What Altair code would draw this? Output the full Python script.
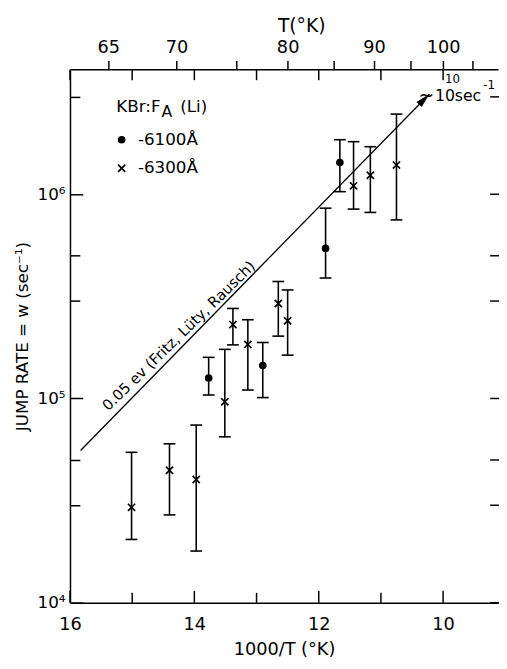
import altair as alt
import pandas as pd

FONT = "DejaVu Sans"

# ---- data ----
series_names = ["-6100Å", "-6300Å"]

x_6100 = [13.77, 12.90, 11.89, 11.66]
w_6100 = [1.26e5, 1.45e5, 5.43e5, 1.43e6]
lo_6100 = [1.04e5, 1.01e5, 3.89e5, 1.03e6]
hi_6100 = [1.59e5, 1.88e5, 8.55e5, 1.85e6]

x_6300 = [15.01, 14.40, 13.97, 13.51, 13.38, 13.14, 12.65, 12.50, 11.44, 11.17, 10.75]
w_6300 = [2.93e4, 4.45e4, 4.01e4, 9.63e4, 2.30e5, 1.84e5, 2.92e5, 2.40e5, 1.10e6, 1.24e6, 1.39e6]
lo_6300 = [2.04e4, 2.69e4, 1.79e4, 6.49e4, 1.83e5, 1.10e5, 2.02e5, 1.63e5, 8.46e5, 8.15e5, 7.49e5]
hi_6300 = [5.45e4, 6.00e4, 7.41e4, 1.74e5, 2.76e5, 2.43e5, 3.74e5, 3.40e5, 1.81e6, 1.71e6, 2.47e6]

fit_x = [15.83, 10.22]
fit_w = [5.56e4, 3.10e6]
fit_label = "0.05 ev (Fritz, Lüty, Rausch)"
fit_label_x = [14.14]
fit_label_w = [1.87e5]

x_ticks_major = [16, 14, 12, 10]
x_ticks_minor = [15, 13, 11]
t_ticks = [65, 70, 75, 80, 85, 90, 95, 100, 105]
t_labels = [65, 70, 80, 90, 100]
y_ticks_major = [1e4, 1e5, 1e6]
y_ticks_minor = [3e4, 5e4, 3e5, 5e5, 3e6]
y_tick_labels = ["10⁴", "10⁵", "10⁶"]

x_domain = [9.117, 16]
y_domain = [1e4, 4.09e6]

W, H = 435, 542

# ---- tables ----
df = pd.DataFrame({
    "x": x_6100 + x_6300,
    "w": w_6100 + w_6300,
    "lo": lo_6100 + lo_6300,
    "hi": hi_6100 + hi_6300,
    "series": [series_names[0]] * len(x_6100) + [series_names[1]] * len(x_6300),
})
fit_df = pd.DataFrame({"x": fit_x, "w": fit_w})
tip_df = fit_df.tail(1)
lab_df = pd.DataFrame({"x": fit_label_x, "w": fit_label_w, "t": [fit_label]})
xmaj = pd.DataFrame({"x": x_ticks_major})
xmin = pd.DataFrame({"x": x_ticks_minor})
xall = pd.DataFrame({"x": x_ticks_major + x_ticks_minor})
ymaj = pd.DataFrame({"w": y_ticks_major})
ymin = pd.DataFrame({"w": y_ticks_minor})
yall = pd.DataFrame({"w": y_ticks_major + y_ticks_minor})

xs = alt.Scale(domain=x_domain, reverse=True, nice=False, zero=False)
ys = alt.Scale(type="log", domain=y_domain, nice=False)

XT = "1000/T (°K)"
YT = "JUMP RATE = w (sec⁻¹)"

bottom_axis = alt.Axis(
    orient="bottom", values=x_ticks_major, format="d", ticks=False, tickSize=0,
    labelPadding=13, labelFontSize=18, labelFont=FONT, labelColor="black",
    labelFlush=False, labelOverlap=False,
    titleFontSize=18, titleFont=FONT, titleFontWeight="normal", titleColor="black",
    titlePadding=8, grid=False, domainColor="black", domainWidth=1.5,
)
# label expression built from the tick label list
y_label_expr = ""
for v, lab in zip(y_ticks_major[:-1], y_tick_labels[:-1]):
    y_label_expr += f"datum.value < {v * 3} ? '{lab}' : "
y_label_expr += f"'{y_tick_labels[-1]}'"
left_axis = alt.Axis(
    orient="left", values=y_ticks_major, labelExpr=y_label_expr, ticks=False, tickSize=0,
    labelPadding=5, labelFontSize=17, labelFont=FONT, labelColor="black", labelOverlap=False,
    titleFontSize=17, titleFont=FONT, titleFontWeight="normal", titleColor="black",
    titlePadding=6, grid=False, domainColor="black", domainWidth=1.5, title=YT,
)
# inward left ticks: extra left axes shifted into the plot so their outward ticks reach the frame
left_major_ticks_axis = alt.Axis(
    orient="left", values=y_ticks_major, offset=-13, tickSize=13, tickWidth=1.5, tickColor="black",
    labels=False, domain=False, grid=False, title=None, zindex=2,
)
left_minor_ticks_axis = alt.Axis(
    orient="left", values=y_ticks_minor, offset=-10, tickSize=10, tickWidth=1.5, tickColor="black",
    labels=False, domain=False, grid=False, title=None, zindex=2,
)
top_label_expr = ("indexof(" + str(t_labels) + ", round(1000/datum.value)) >= 0 ? "
                  "'' + round(1000/datum.value) : ''")
top_axis = alt.Axis(
    orient="top", values=[1000.0 / t for t in t_ticks], labelExpr=top_label_expr,
    tickSize=9, tickWidth=1.5, tickColor="black", labelPadding=4,
    labelFontSize=18, labelFont=FONT, labelColor="black", labelFlush=False, labelOverlap=False,
    title="T(°K)", titleFontSize=19, titleFont=FONT, titleFontWeight="normal", titleColor="black",
    titleX=235, titleY=-38, titleAlign="center", titleBaseline="alphabetic",
    grid=False, domainColor="black", domainWidth=1.5,
)

# filled "x" outline so that plot and legend draw it the same way
cross_path = ("M-1.1,-0.79L-0.79,-1.1L0,-0.31L0.79,-1.1L1.1,-0.79L0.31,0L1.1,0.79"
              "L0.79,1.1L0,0.31L-0.79,1.1L-1.1,0.79L-0.31,0Z")
leg = alt.Legend(
    title=None, orient="none", legendX=44, legendY=63, padding=0,
    labelFontSize=17, labelFont=FONT, labelColor="black", labelOffset=8,
    rowPadding=11, symbolSize=60, symbolFillColor="black", symbolStrokeWidth=0,
)


def yn(field="w"):
    return alt.Y(field + ":Q", scale=ys, axis=None, title=YT)


def xn(field="x"):
    return alt.X(field + ":Q", scale=xs, axis=None, title=XT)


pts = alt.Chart(df).mark_point(
    size=60, filled=True, color="black", strokeWidth=0, opacity=1
).encode(
    x=alt.X("x:Q", scale=xs, axis=bottom_axis, title=XT),
    y=alt.Y("w:Q", scale=ys, axis=left_axis, title=YT),
    shape=alt.Shape("series:N", scale=alt.Scale(domain=series_names, range=["circle", cross_path]), legend=leg),
)

bars = alt.Chart(df).mark_rule(color="black", strokeWidth=1.6).encode(
    x=xn(), y=yn("lo"), y2="hi:Q")
cap_lo = alt.Chart(df).mark_tick(orient="horizontal", color="black", size=12, thickness=1.6, opacity=1).encode(
    x=xn(), y=yn("lo"))
cap_hi = alt.Chart(df).mark_tick(orient="horizontal", color="black", size=12, thickness=1.6, opacity=1).encode(
    x=xn(), y=yn("hi"))

fit_line = alt.Chart(fit_df).mark_line(color="black", strokeWidth=1.3).encode(x=xn(), y=yn())
arrow = alt.Chart(tip_df).mark_point(
    shape="M0,0L0.5,2L-0.5,2Z", size=225, angle=44.3, filled=True, color="black", opacity=1, strokeWidth=0
).encode(x=xn(), y=yn())
fit_text = alt.Chart(lab_df).mark_text(
    angle=315.7, fontSize=15, font=FONT, align="center", baseline="bottom", dy=-2, color="black"
).encode(x=xn(), y=yn(), text="t:N")

# inward ticks
bot_maj = alt.Chart(xmaj).mark_rule(color="black", strokeWidth=1.5).encode(
    x=xn(), y=alt.value(H), y2=alt.value(H - 12))
bot_min = alt.Chart(xmin).mark_rule(color="black", strokeWidth=1.5).encode(
    x=xn(), y=alt.value(H), y2=alt.value(H - 10))
top_in = alt.Chart(xall).mark_rule(color="black", strokeWidth=1.5).encode(
    x=alt.X("x:Q", scale=xs, axis=top_axis), y=alt.value(0.5), y2=alt.value(11))
right_ticks = alt.Chart(yall).mark_rule(color="black", strokeWidth=1.5).encode(
    y=yn(), x=alt.value(W + 1), x2=alt.value(W - 8))
left_maj_axis_layer = alt.Chart(ymaj).mark_point(opacity=0).encode(
    x=alt.value(W / 2),
    y=alt.Y("w:Q", scale=ys, axis=left_major_ticks_axis),
)
left_min_axis_layer = alt.Chart(ymin).mark_point(opacity=0).encode(
    x=alt.value(W / 2),
    y=alt.Y("w:Q", scale=ys, axis=left_minor_ticks_axis),
)


def txt(s, x, y, size, align="left"):
    return alt.Chart(pd.DataFrame({"t": [s]})).mark_text(
        font=FONT, fontSize=size, align=align, baseline="alphabetic", color="black"
    ).encode(x=alt.value(x), y=alt.value(y), text="t:N")


annots = [
    txt("KBr:F", 92, 43, 17, "right"),
    txt("A", 93, 48, 16),
    txt("(Li)", 112, 43, 17),
    txt("~", 370, 33, 19, "right"),
    txt("10", 371, 32, 16),
    txt("10", 381, 14, 12),
    txt("sec", 391, 32, 16),
    txt("-1", 420, 20, 12),
]

chart = alt.layer(
    pts, bars, cap_lo, cap_hi, fit_line, arrow, fit_text,
    bot_maj, bot_min, top_in, right_ticks, left_maj_axis_layer, left_min_axis_layer, *annots
).resolve_axis(x="independent", y="independent").properties(
    width=W, height=H,
    autosize=alt.AutoSizeParams(type="none"),
    padding={"left": 63, "top": 57, "right": 1, "bottom": 60},
    background="white",
).configure_view(strokeOpacity=0)

chart.save("out.html", embed_options={"renderer": "svg", "actions": False})
